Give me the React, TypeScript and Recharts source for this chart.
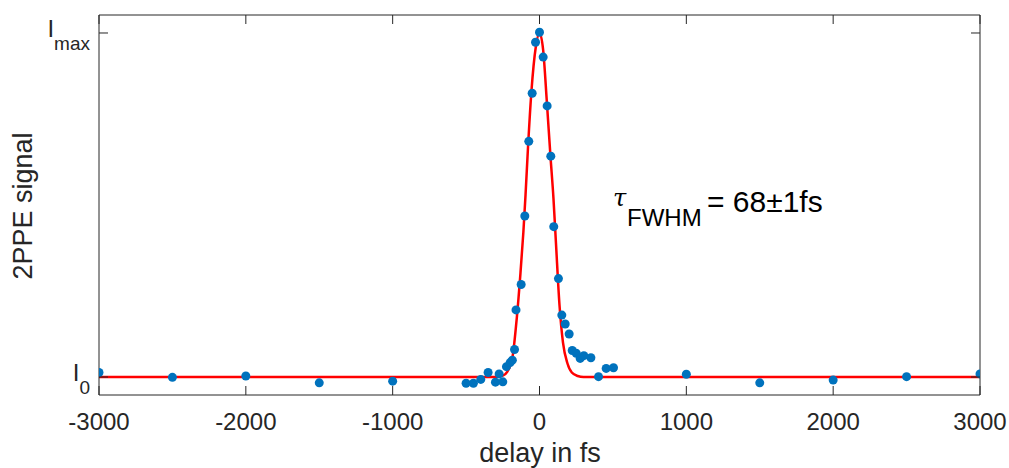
import { ComposedChart, Line, Scatter, XAxis, YAxis } from 'recharts';

// delay in fs / normalised 2PPE signal (0 = I_0, 1 = I_max)
const measuredDelay = [
  -3000, -2500, -2000, -1500, -1000, -500, -450, -400, -350, -300, -275, -250,
  -225, -200, -185, -170, -160, -125, -100, -73, -50, -27, 0, 25, 52, 77, 97,
  129, 152, 175, 202, 223, 250, 277, 302, 350, 402, 454, 504, 1000, 1500, 2000,
  2500, 3000,
];
const measuredSignal = [
  0.013, -0.001, 0.003, -0.017, -0.012, -0.018, -0.018, -0.007, 0.013, -0.015,
  0.009, -0.014, 0.03, 0.042, 0.049, 0.08, 0.195, 0.269, 0.468, 0.685, 0.825,
  0.973, 1.002, 0.93, 0.788, 0.642, 0.437, 0.286, 0.18, 0.154, 0.125, 0.077,
  0.069, 0.054, 0.062, 0.056, 0.001, 0.025, 0.027, 0.008, -0.017, -0.009,
  0.001, 0.009,
];

// fitted curve
const fitDelay = [
  -3000, -300, -250, -220, -185, -155, -130, -110, -95, -78, -55, -25, 0, 25,
  50, 75, 95, 112, 136, 160, 190, 220, 260, 300, 3000,
];
const fitSignal = [
  0, 0, 0.004, 0.015, 0.055, 0.17, 0.3, 0.42, 0.53, 0.67, 0.83, 0.96, 1.0,
  0.95, 0.8, 0.64, 0.52, 0.39, 0.21, 0.1, 0.04, 0.013, 0.003, 0, 0,
];

const xTicks = [-3000, -2000, -1000, 0, 1000, 2000, 3000];
const yTicks = [0, 1];
const yTickNames: Record<number, string> = { 0: '0', 1: 'max' };

const measured = measuredDelay.map((d, i) => ({ delay: d, signal: measuredSignal[i] }));
const fit = fitDelay.map((d, i) => ({ delay: d, signal: fitSignal[i] }));

const AXIS = '#262626';
const FONT = '"Liberation Sans", Arial, sans-serif';
const TICK_LEN = 9;
const Y_DOMAIN = [-0.0523, 1.0523];

const BottomTick = (props: any) => {
  const { x, y, payload } = props;
  return (
    <g>
      <line x1={x} y1={y} x2={x} y2={y - TICK_LEN} stroke={AXIS} />
      <text x={x} y={y + 35} textAnchor="middle" fontSize={24} fontFamily={FONT} fill={AXIS}>
        {payload.value}
      </text>
    </g>
  );
};

const TopTick = (props: any) => {
  const { x, y } = props;
  return <line x1={x} y1={y} x2={x} y2={y + TICK_LEN} stroke={AXIS} />;
};

const LeftTick = (props: any) => {
  const { x, y, payload } = props;
  return (
    <g>
      <line x1={x} y1={y} x2={x + TICK_LEN} y2={y} stroke={AXIS} />
      <text x={x - 9} y={y + 4} textAnchor="end" fontSize={24} fontFamily={FONT} fill={AXIS}>
        I
        <tspan dy={13} fontSize={19}>
          {yTickNames[payload.value]}
        </tspan>
      </text>
    </g>
  );
};

const RightTick = (props: any) => {
  const { x, y } = props;
  return <line x1={x} y1={y} x2={x - TICK_LEN} y2={y} stroke={AXIS} />;
};

const Dot = (props: any) => <circle cx={props.cx} cy={props.cy} r={4.5} fill="#0072BD" />;

export default function App() {
  return (
    <div style={{ position: 'absolute', left: 0, top: 0 }}>
      <ComposedChart width={1009} height={468} margin={{ top: 14, right: 28, bottom: 0, left: 0 }}>
        <XAxis
          dataKey="delay"
          type="number"
          domain={[-3000, 3000]}
          ticks={xTicks}
          interval={0}
          height={73}
          tickSize={0}
          tickMargin={0}
          tickLine={false}
          tick={<BottomTick />}
          axisLine={{ stroke: AXIS }}
          allowDataOverflow
        />
        <XAxis
          xAxisId="top"
          dataKey="delay"
          orientation="top"
          type="number"
          domain={[-3000, 3000]}
          ticks={xTicks}
          interval={0}
          height={1}
          tickSize={0}
          tickMargin={0}
          tickLine={false}
          tick={<TopTick />}
          axisLine={{ stroke: AXIS }}
          allowDataOverflow
        />
        <YAxis
          type="number"
          domain={Y_DOMAIN}
          ticks={yTicks}
          interval={0}
          width={99}
          tickSize={0}
          tickMargin={0}
          tickLine={false}
          tick={<LeftTick />}
          axisLine={{ stroke: AXIS }}
          allowDataOverflow
        />
        <YAxis
          yAxisId="right"
          orientation="right"
          type="number"
          domain={Y_DOMAIN}
          ticks={yTicks}
          interval={0}
          width={1}
          tickSize={0}
          tickMargin={0}
          tickLine={false}
          tick={<RightTick />}
          axisLine={{ stroke: AXIS }}
          allowDataOverflow
        />
        {/* invisible series that binds the top / right frame axes */}
        <Line
          xAxisId="top"
          yAxisId="right"
          data={fit}
          dataKey="signal"
          stroke="none"
          dot={false}
          activeDot={false}
          isAnimationActive={false}
        />
        <Scatter data={measured} dataKey="signal" shape={<Dot />} isAnimationActive={false} />
        <Line
          data={fit}
          dataKey="signal"
          type="monotone"
          stroke="#FF0000"
          strokeWidth={2.5}
          dot={false}
          activeDot={false}
          isAnimationActive={false}
        />
        <text
          x={32}
          y={206}
          transform="rotate(-90, 32, 206)"
          textAnchor="middle"
          fontSize={27}
          fontFamily={FONT}
          fill={AXIS}
        >
          2PPE signal
        </text>
        <text x={540} y={462} textAnchor="middle" fontSize={27} fontFamily={FONT} fill={AXIS}>
          delay in fs
        </text>
        <text x={613} y={206} fontSize={24} fontStyle="italic" fontFamily='"DejaVu Serif", serif' fill="#000">
          τ
        </text>
        <text x={627} y={226} fontSize={24} fontFamily={FONT} fill="#000">
          FWHM
        </text>
        <text x={707} y={212} fontSize={30} fontFamily={FONT} fill="#000">
          = 68±1fs
        </text>
      </ComposedChart>
    </div>
  );
}
